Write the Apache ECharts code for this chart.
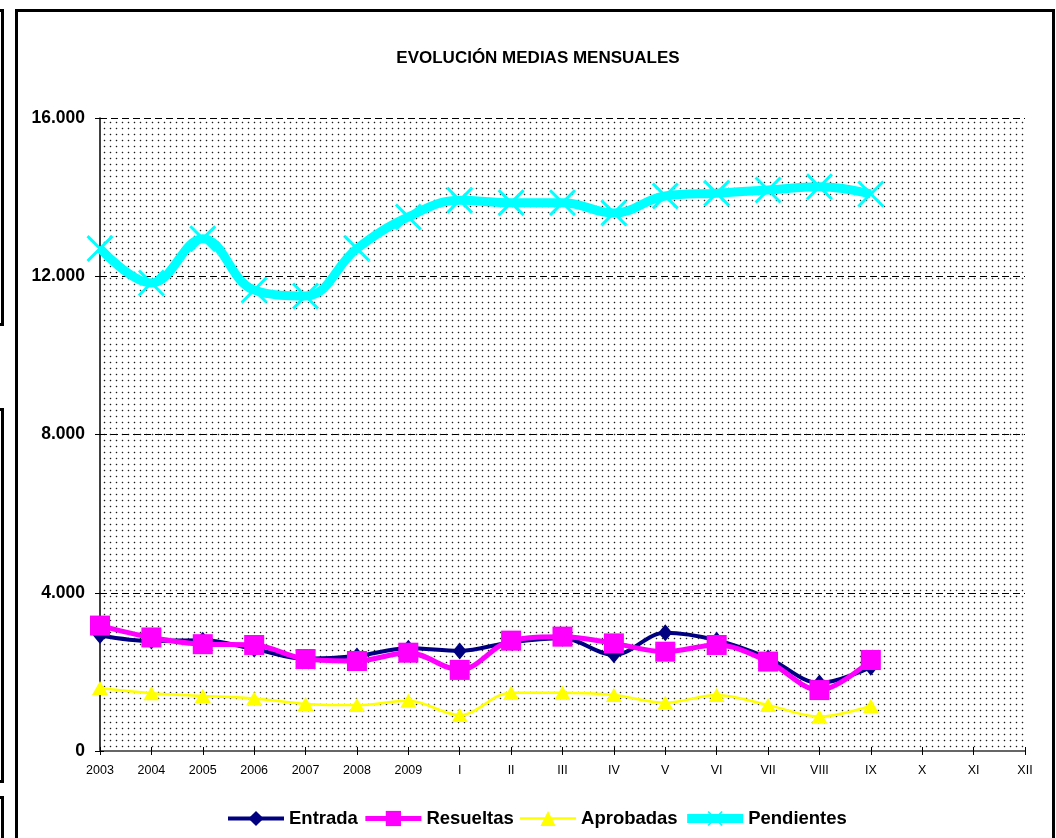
<!DOCTYPE html>
<html>
<head>
<meta charset="utf-8">
<script src="https://cdn.jsdelivr.net/npm/echarts@6/dist/echarts.min.js"></script>
<style>
html,body{margin:0;padding:0;background:#fff;}
#c{width:1056px;height:838px;}
</style>
</head>
<body>
<div id="c"></div>
<script>
const categories = ['2003','2004','2005','2006','2007','2008','2009','I','II','III','IV','V','VI','VII','VIII','IX','X','XI','XII'];
const entrada    = [2920,2780,2800,2580,2330,2400,2600,2530,2750,2850,2430,2990,2800,2350,1720,2120];
const resueltas  = [3170,2870,2700,2680,2325,2275,2485,2050,2790,2890,2720,2510,2680,2260,1540,2300];
const aprobadas  = [1590,1460,1390,1330,1190,1160,1270,910,1475,1475,1415,1220,1415,1160,870,1140];
const pendientes = [12700,11830,12950,11650,11500,12700,13500,13920,13860,13860,13600,14030,14100,14180,14260,14080];
const yTicks = [0,4000,8000,12000,16000];

const FONT = "'Liberation Sans', Arial, sans-serif";

// dotted background pattern
const tile = document.createElement('canvas');
tile.width = 6; tile.height = 6;
const tctx = tile.getContext('2d');
tctx.fillStyle = '#fff';
tctx.fillRect(0,0,6,6);
tctx.fillStyle = 'rgba(0,0,0,0.18)';
tctx.fillRect(1,2,3,1);
tctx.fillRect(2,1,1,3);
tctx.fillStyle = 'rgba(0,0,0,0.85)';
tctx.fillRect(2,2,1,1);

function fmt(v){ return String(v).replace(/\B(?=(\d{3})+(?!\d))/g, '.'); }

const d = 2;
const xPath = 'path://M0,'+d+' L'+d+',0 L13,'+(13-d)+' L'+(26-d)+',0 L26,'+d+' L'+(13+d)+',13 L26,'+(26-d)+' L'+(26-d)+',26 L13,'+(13+d)+' L'+d+',26 L0,'+(26-d)+' L'+(13-d)+',13 Z';

const chart = echarts.init(document.getElementById('c'), null, {renderer:'canvas'});
chart.setOption({
  backgroundColor: '#fff',
  animation: false,
  title: {
    text: 'EVOLUCIÓN MEDIAS MENSUALES',
    left: 533, top: 45, textAlign: 'center',
    textStyle: {fontFamily: FONT, fontWeight: 'bold', fontSize: 17, color: '#000'}
  },
  legend: {
    top: 804, left: 221,
    itemWidth: 56, itemHeight: 19, itemGap: 5,
    lineStyle: {width: 'inherit'},
    textStyle: {fontFamily: FONT, fontWeight: 'bold', fontSize: 18.5, color: '#000'},
    data: ['Entrada','Resueltas','Aprobadas','Pendientes']
  },
  grid: {
    left: 100, right: 31, top: 118, bottom: 87,
    show: true,
    backgroundColor: {image: tile, repeat: 'repeat'},
    borderWidth: 0
  },
  graphic: [
    {type:'rect', shape:{x:16.5, y:10.5, width:1037, height:900}, style:{fill:'none', stroke:'#000', lineWidth:3}, silent:true, z:100},
    {type:'rect', shape:{x:-20, y:10.5, width:22.5, height:314}, style:{fill:'none', stroke:'#000', lineWidth:3}, silent:true, z:100},
    {type:'rect', shape:{x:-20, y:409.5, width:22.5, height:372}, style:{fill:'none', stroke:'#000', lineWidth:3}, silent:true, z:100},
    {type:'rect', shape:{x:-20, y:797.5, width:22.5, height:200}, style:{fill:'none', stroke:'#000', lineWidth:3}, silent:true, z:100}
  ],
  xAxis: [{
    type: 'category', data: categories, boundaryGap: false,
    axisLine: {show: true, lineStyle: {color: '#666', width: 2}},
    axisTick: {show: true, length: 4, lineStyle: {color: '#000', width: 1}},
    axisLabel: {margin: 13, fontFamily: FONT, fontSize: 12.5, color: '#000', interval: 0},
    splitLine: {show: false}
  },{
    type: 'category', data: categories, boundaryGap: false, position: 'bottom',
    axisLine: {show: false},
    axisTick: {show: true, inside: true, length: 4, lineStyle: {color: '#000', width: 1}},
    axisLabel: {show: false},
    splitLine: {show: false}
  }],
  yAxis: [{
    type: 'value', min: 0, max: 16000, interval: 4000,
    axisLine: {show: true, lineStyle: {color: '#000', width: 1.5}},
    axisTick: {show: true, length: 5, lineStyle: {color: '#000', width: 1}},
    axisLabel: {margin: 15, fontFamily: FONT, fontWeight: 'bold', fontSize: 17.5, color: '#000', formatter: fmt,
      customValues: yTicks},
    splitLine: {show: true, lineStyle: {color: '#000', width: 1, type: [7,4]}}
  },{
    type: 'value', min: 0, max: 16000, interval: 4000, position: 'left',
    axisLine: {show: false},
    axisTick: {show: true, inside: true, length: 4, lineStyle: {color: '#000', width: 1}},
    axisLabel: {show: false},
    splitLine: {show: false}
  }],
  series: [
    {name:'Entrada', type:'line', data: entrada, smooth: 0.35,
     symbol:'diamond', symbolSize:[14,17],
     lineStyle:{color:'#000080', width:4}, itemStyle:{color:'#000080'}, z:2},
    {name:'Resueltas', type:'line', data: resueltas, smooth: 0.35,
     symbol:'rect', symbolSize:20,
     lineStyle:{color:'#FF00FF', width:5}, itemStyle:{color:'#FF00FF'}, z:3},
    {name:'Aprobadas', type:'line', data: aprobadas, smooth: 0.35,
     symbol:'triangle', symbolSize:[16,14],
     lineStyle:{color:'#FFFF00', width:2.5}, itemStyle:{color:'#FFFF00'}, z:4},
    {name:'Pendientes', type:'line', data: pendientes, smooth: 0.4,
     symbol: xPath, symbolSize:27,
     lineStyle:{color:'#00FFFF', width:9}, itemStyle:{color:'#00FFFF', borderWidth:0}, z:5}
  ]
});
</script>
</body>
</html>
